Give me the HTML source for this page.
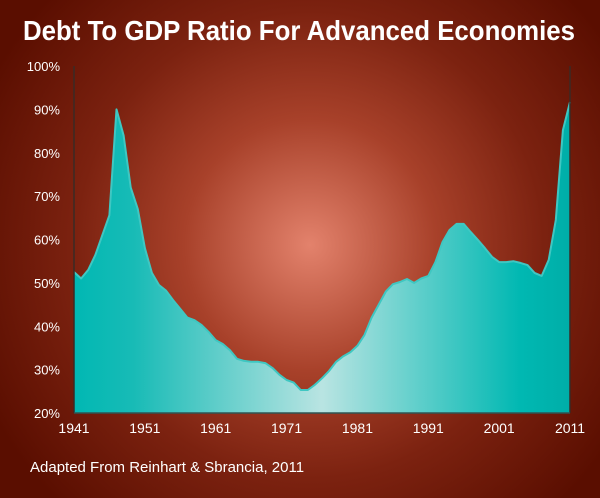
<!DOCTYPE html>
<html><head><meta charset="utf-8"><style>
html,body{margin:0;padding:0;width:600px;height:498px;overflow:hidden;background:#5e1000}
svg{display:block}
text{font-family:"Liberation Sans",sans-serif;fill:#fff}
</style></head><body>
<svg id="chart" width="600" height="498" viewBox="0 0 600 498">
<defs>
<radialGradient id="bg" cx="310" cy="245" r="360" gradientUnits="userSpaceOnUse">
<stop offset="0" stop-color="#e3826c"/>
<stop offset="0.35" stop-color="#a8412a"/>
<stop offset="0.65" stop-color="#7c2210"/>
<stop offset="1" stop-color="#5a0e00"/>
</radialGradient>
<linearGradient id="fill" x1="74" x2="570" y1="0" y2="0" gradientUnits="userSpaceOnUse">
<stop offset="0" stop-color="#00b8b3"/>
<stop offset="0.12" stop-color="#18bbb6"/>
<stop offset="0.5" stop-color="#b9e4e2"/>
<stop offset="0.9" stop-color="#00b8b2"/>
<stop offset="1" stop-color="#00aea8"/>
</linearGradient>
</defs>
<rect x="0" y="0" width="600" height="498" fill="url(#bg)"/>
<text x="299" y="40" text-anchor="middle" font-size="28" font-weight="bold" textLength="552" lengthAdjust="spacingAndGlyphs">Debt To GDP Ratio For Advanced Economies</text>
<g id="yaxis"></g>
<g id="xaxis"></g>
<g id="plot"></g>
<text x="30" y="472" font-size="15">Adapted From Reinhart &amp; Sbrancia, 2011</text>
</svg>
<script>
const years = [1941,1942,1943,1944,1945,1946,1947,1948,1949,1950,1951,1952,1953,1954,1955,1956,1957,1958,1959,1960,1961,1962,1963,1964,1965,1966,1967,1968,1969,1970,1971,1972,1973,1974,1975,1976,1977,1978,1979,1980,1981,1982,1983,1984,1985,1986,1987,1988,1989,1990,1991,1992,1993,1994,1995,1996,1997,1998,1999,2000,2001,2002,2003,2004,2005,2006,2007,2008,2009,2010,2011];
const debtRatio = [52.5,51,53,56.4,61,65.6,90,84,72,67,58,52.3,49.5,48.2,46,44,42,41.4,40.3,38.7,36.8,35.9,34.5,32.5,32,31.8,31.8,31.5,30.4,28.8,27.6,27,25.3,25.3,26.5,28,29.7,31.8,33.1,34,35.5,38,42,45,48,49.7,50.2,50.9,50,51,51.6,54.8,59.4,62.2,63.6,63.6,61.7,59.9,58,56,54.8,54.8,55,54.6,54.1,52.3,51.6,55.3,64.5,85.2,91.7];
const yTicks = [20,30,40,50,60,70,80,90,100];
const xTicks = [1941,1951,1961,1971,1981,1991,2001,2011];

const NS = "http://www.w3.org/2000/svg";
const X0=74, X1=570, Y0=413, Y1=66;
const xs = y => X0 + (y-1941)/(2011-1941)*(X1-X0);
const ys = v => Y0 - (v-20)/(100-20)*(Y0-Y1);
function mk(tag, attrs, parent){const e=document.createElementNS(NS,tag);for(const k in attrs)e.setAttribute(k,attrs[k]);parent.appendChild(e);return e;}

const yg=document.getElementById('yaxis'), xg=document.getElementById('xaxis'), pg=document.getElementById('plot');
yTicks.forEach(v=>{
  const t=mk('text',{x:60,y:ys(v)+5,'text-anchor':'end','font-size':13},yg);
  t.textContent=v+'%';
  
  
});
xTicks.forEach(v=>{
  const t=mk('text',{x:xs(v),y:433,'text-anchor':'middle','font-size':14},xg);
  t.textContent=v;
  
  
});
let d='M'+xs(years[0])+','+Y0;
let line='';
years.forEach((y,i)=>{d+=' L'+xs(y).toFixed(1)+','+ys(debtRatio[i]).toFixed(1);line+=(i?' L':'M')+xs(y).toFixed(1)+','+ys(debtRatio[i]).toFixed(1);});
d+=' L'+xs(years[years.length-1])+','+Y0+' Z';
const area=mk('path',{d:d,fill:'url(#fill)'},pg);


const ln=mk('path',{d:line,fill:'none',stroke:'#3fc7c2','stroke-width':2,'stroke-linejoin':'round'},pg);


const la=mk('line',{x1:X0,y1:Y1,x2:X0,y2:Y0,stroke:'#3a2a25','stroke-width':1.5},pg);


const ra=mk('line',{x1:X1,y1:Y1,x2:X1,y2:Y0,stroke:'#3a2a25','stroke-width':1.5},pg);


const ba=mk('line',{x1:X0,y1:Y0,x2:X1,y2:Y0,stroke:'#2f5552','stroke-width':1.5},pg);


</script>
</body></html>
